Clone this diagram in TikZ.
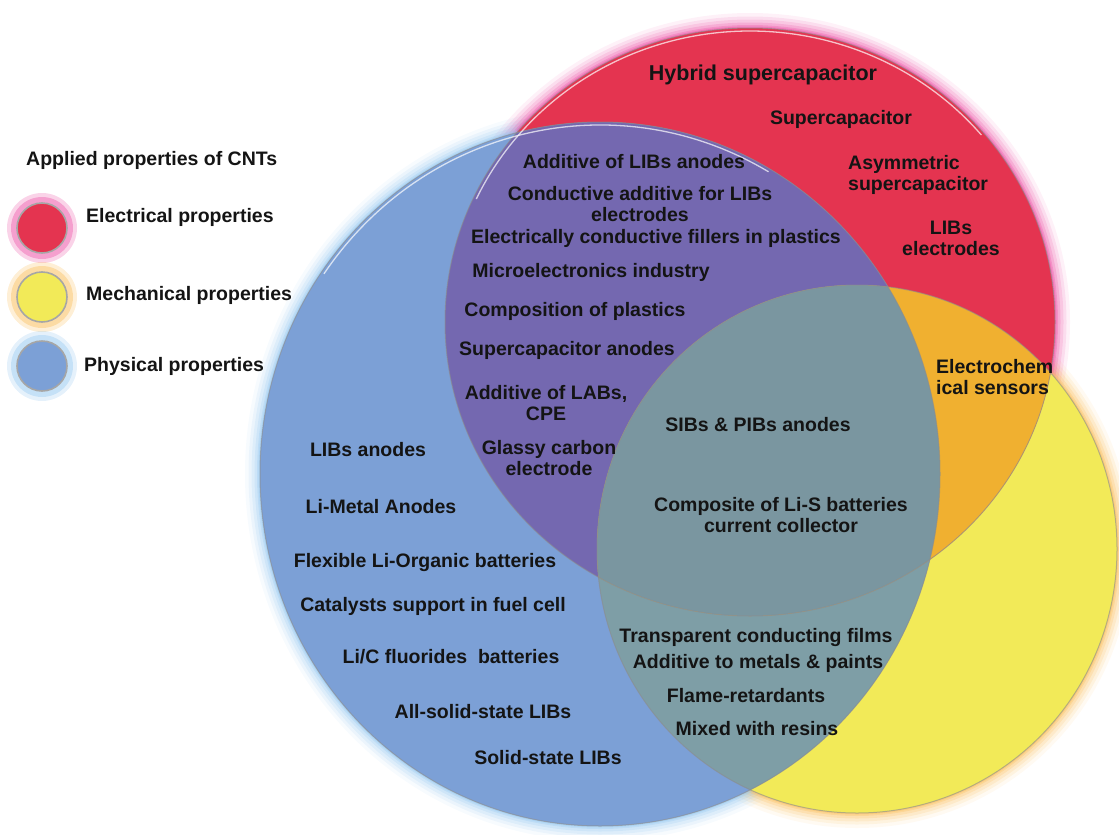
\documentclass[tikz,border=0pt]{standalone}
\usepackage{fontspec}
\setmainfont{Liberation Sans}
\definecolor{blueC}{RGB}{124,160,214}
\definecolor{redC}{RGB}{228,52,80}
\definecolor{yellowC}{RGB}{242,234,88}
\definecolor{purpleC}{RGB}{116,104,176}
\definecolor{grayC}{RGB}{122,150,160}
\definecolor{byC}{RGB}{126,158,166}
\definecolor{orangeC}{RGB}{240,176,48}
\definecolor{redGlow}{RGB}{236,80,165}
\definecolor{yellowGlow}{RGB}{250,190,90}
\definecolor{blueGlow}{RGB}{150,200,240}
\begin{document}
\begin{tikzpicture}[x=1pt,y=-1pt,
  lbl/.style={font=\bfseries\fontsize{19.5}{21}\selectfont, align=center, inner sep=0pt, text=black!92},
  lbll/.style={lbl, align=left},
  rim/.style={draw=black!45, line width=1pt, opacity=0.6},
  shine/.style={draw=white, line width=1.3pt, opacity=0.7}]
\useasboundingbox (0,0) rectangle (1119,835);
\clip (0,0) rectangle (1119,835);
\def\redE{(750,322) ellipse [x radius=305, y radius=294]}
\def\yelE{(857,549) ellipse [x radius=260, y radius=264]}
\def\bluE{(600,474) ellipse [x radius=340, y radius=352]}
% glows
\foreach \w/\o in {30/0.08,23/0.12,17/0.16,11/0.22,6/0.3,3/0.4}{
  \draw[yellowGlow, line width=\w, opacity=\o] \yelE;
  \draw[redGlow, line width=\w, opacity=\o] \redE;
  \draw[blueGlow, line width=\w, opacity=\o] \bluE;
}
% base fills
\fill[yellowC] \yelE;
\fill[redC] \redE;
\fill[blueC] \bluE;
\begin{scope}
  \clip \bluE;
  \fill[purpleC] \redE;
  \fill[byC] \yelE;
\end{scope}
\begin{scope}
  \clip \redE;
  \fill[orangeC] \yelE;
  \clip \bluE;
  \fill[grayC] \yelE;
\end{scope}
% rims and highlights
\draw[rim] \yelE;
\draw[rim] \redE;
\draw[rim] \bluE;
\draw[shine] ([shift={(205:302 and 291)}]750,322) arc [start angle=205, end angle=320, x radius=302, y radius=291];
\draw[shine] ([shift={(215:337 and 349)}]600,474) arc [start angle=215, end angle=300, x radius=337, y radius=349];

% legend
\node[lbll, anchor=west] (title) at (26,160) {Applied properties of CNTs};
\foreach \c/\g/\y/\n in {redC/redGlow/228/bR, yellowC/yellowGlow/297/bY, blueC/blueGlow/366/bB}{
  \fill[\g, opacity=0.25] (42,\y) circle (35);
  \fill[\g, opacity=0.4] (42,\y) circle (31);
  \node[circle, minimum size=50pt, inner sep=0pt, fill=\c, draw=black!35, line width=1.6pt] (\n) at (42,\y) {};
}
\node[lbll, anchor=west] (lE) at (86,217) {Electrical properties};
\node[lbll, anchor=west] (lM) at (86,295) {Mechanical properties};
\node[lbll, anchor=west] (lP) at (84,366) {Physical properties};

% red only
\node[lbl, font=\bfseries\fontsize{21.5}{21}\selectfont] (r1) at (763,75) {Hybrid supercapacitor};
\node[lbl] (r2) at (841,119) {Supercapacitor};
\node[lbll, anchor=west] (r3) at (848,175) {Asymmetric\\supercapacitor};
\node[lbl] (r4) at (951,238) {LIBs\\electrodes};

% blue & red
\node[lbl] (p1) at (634,162) {Additive of LIBs anodes};
\node[lbl] (p2) at (640,204) {Conductive additive for LIBs\\electrodes};
\node[lbl] (p3) at (656,238) {Electrically conductive fillers in plastics};
\node[lbl] (p4) at (591,272) {Microelectronics industry};
\node[lbl] (p5) at (575,311) {Composition of plastics};
\node[lbl] (p6) at (567,350) {Supercapacitor anodes};
\node[lbl] (p7) at (546,403) {Additive of LABs,\\CPE};
\node[lbl] (p8) at (549,458) {Glassy carbon\\electrode};

% centre
\node[lbl] (c1) at (758,425) {SIBs \& PIBs anodes};
\node[lbl] (c2) at (781,515) {Composite of Li-S batteries\\current collector};

% red & yellow
\node[lbll, anchor=west] (o1) at (936,377) {Electrochem\\ical sensors};

% blue only
\node[lbl] (b1) at (368,450) {LIBs anodes};
\node[lbl] (b2) at (381,507) {Li-Metal Anodes};
\node[lbl] (b3) at (425,562) {Flexible Li-Organic batteries};
\node[lbl] (b4) at (433,606) {Catalysts support in fuel cell};
\node[lbl] (b5) at (451,657) {Li/C fluorides\ \ batteries};
\node[lbl] (b6) at (483,712) {All-solid-state LIBs};
\node[lbl] (b7) at (548,758) {Solid-state LIBs};

% blue & yellow
\node[lbl] (y1) at (756,637) {Transparent conducting films};
\node[lbl] (y2) at (758,663) {Additive to metals \& paints};
\node[lbl] (y3) at (746,696) {Flame-retardants};
\node[lbl] (y4) at (757,729) {Mixed with resins};
\end{tikzpicture}
\end{document}
